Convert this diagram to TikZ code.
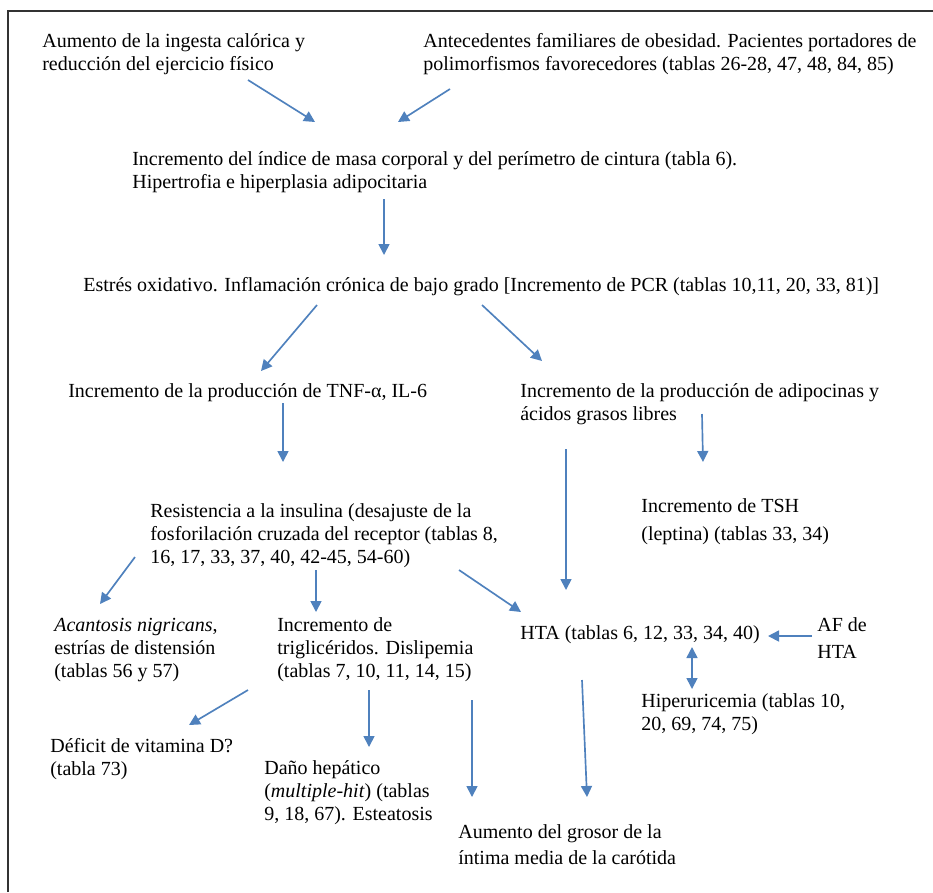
\documentclass[tikz,border=0pt]{standalone}
\usepackage{fontspec}
\setmainfont{Liberation Serif}
\usepackage{xcolor}
\usetikzlibrary{arrows.meta}
\definecolor{azulflecha}{RGB}{79,129,189}
\definecolor{gris}{RGB}{51,51,51}

\begin{document}
\begin{tikzpicture}[x=0.6pt, y=-0.6pt,
  txt/.style = {anchor=base west, inner sep=0pt, align=left, font=\fontsize{12}{13.8}\selectfont},
  flecha/.style = {draw=azulflecha, line width=1pt, -{Triangle[width=6.6pt,length=6.6pt]}},
  doble/.style = {flecha, {Triangle[width=6.6pt,length=6.6pt]}-{Triangle[width=6.6pt,length=6.6pt]}},
  marco/.style = {draw=gris, line width=1.2pt}]
        \useasboundingbox (0,0) rectangle (933,892);
        \draw[marco] (8,892) -- (8,11) -- (933,11);
        \node[txt] at (42, 70) (ingesta) {Aumento de la ingesta calórica y\\reducción del ejercicio físico};
        \node[txt] at (423, 70) (genetica) {Antecedentes familiares de obesidad. Pacientes portadores de\\polimorfismos favorecedores (tablas 26-28, 47, 48, 84, 85)};
        \node[txt] at (132, 188) (imc) {Incremento del índice de masa corporal y del perímetro de cintura (tabla 6).\\Hipertrofia e hiperplasia adipocitaria};
        \node[txt] at (83, 291) (estres) {Estrés oxidativo. Inflamación crónica de bajo grado [Incremento de PCR (tablas 10,11, 20, 33, 81)]};
        \node[txt] at (68, 397) (tnf) {Incremento de la producción de TNF-α, IL-6};
        \node[txt] at (520, 420) (adipo) {Incremento de la producción de adipocinas y\\ácidos grasos libres};
        \node[txt] at (641, 540) (tsh) {Incremento de TSH\\[3pt](leptina) (tablas 33, 34)};
        \node[txt] at (150, 563) (resist) {Resistencia a la insulina (desajuste de la\\fosforilación cruzada del receptor (tablas 8,\\16, 17, 33, 37, 40, 42-45, 54-60)};
        \node[txt] at (54, 677) (acant) {\textit{Acantosis nigricans},\\estrías de distensión\\(tablas 56 y 57)};
        \node[txt] at (277, 677) (trigli) {Incremento de\\triglicéridos. Dislipemia\\(tablas 7, 10, 11, 14, 15)};
        \node[txt] at (520, 639) (hta) {HTA (tablas 6, 12, 33, 34, 40)};
        \node[txt] at (817, 658) (afhta) {AF de\\[2.4pt]HTA};
        \node[txt] at (641, 730) (hiperu) {Hiperuricemia (tablas 10,\\20, 69, 74, 75)};
        \node[txt] at (50, 775) (vitd) {Déficit de vitamina D?\\(tabla 73)};
        \node[txt] at (264, 820) (hepat) {Daño hepático\\(\textit{multiple-hit}) (tablas\\9, 18, 67). Esteatosis};
        \node[txt] at (458, 864) (carot) {Aumento del grosor de la\\[1.8pt]íntima media de la carótida};
        \coordinate (ingesta-o) at (248, 80);
        \coordinate (genetica-o) at (450, 89);
        \coordinate (imc-i1) at (315, 122);
        \coordinate (imc-i2) at (398, 122);
        \coordinate (imc-o) at (384, 199);
        \coordinate (estres-i) at (384, 255);
        \coordinate (estres-o1) at (317, 305);
        \coordinate (estres-o2) at (482, 305);
        \coordinate (tnf-i) at (261, 371);
        \coordinate (adipo-i) at (542, 361);
        \coordinate (tnf-o) at (283, 403);
        \coordinate (resist-i) at (283, 462);
        \coordinate (adipo-o1) at (702, 414);
        \coordinate (tsh-i) at (703, 462);
        \coordinate (adipo-o2) at (566, 449);
        \coordinate (hta-i1) at (566, 590);
        \coordinate (resist-o1) at (135, 557);
        \coordinate (acant-i) at (100, 604);
        \coordinate (resist-o2) at (316, 570);
        \coordinate (trigli-i) at (316, 612);
        \coordinate (resist-o3) at (459, 570);
        \coordinate (hta-i2) at (521, 612);
        \coordinate (afhta-o) at (812, 636);
        \coordinate (hta-i3) at (768, 636);
        \coordinate (hta-o1) at (692, 647);
        \coordinate (hiperu-i) at (692, 689);
        \coordinate (trigli-o1) at (248, 690);
        \coordinate (vitd-i) at (189, 725);
        \coordinate (trigli-o2) at (369, 690);
        \coordinate (hepat-i) at (369, 747);
        \coordinate (trigli-o3) at (472, 700);
        \coordinate (carot-i1) at (472, 797);
        \coordinate (hta-o2) at (582, 680);
        \coordinate (carot-i2) at (587, 797);
        \draw[flecha] (ingesta-o) -- (imc-i1);
        \draw[flecha] (genetica-o) -- (imc-i2);
        \draw[flecha] (imc-o) -- (estres-i);
        \draw[flecha] (estres-o1) -- (tnf-i);
        \draw[flecha] (estres-o2) -- (adipo-i);
        \draw[flecha] (tnf-o) -- (resist-i);
        \draw[flecha] (adipo-o1) -- (tsh-i);
        \draw[flecha] (adipo-o2) -- (hta-i1);
        \draw[flecha] (resist-o1) -- (acant-i);
        \draw[flecha] (resist-o2) -- (trigli-i);
        \draw[flecha] (resist-o3) -- (hta-i2);
        \draw[flecha] (afhta-o) -- (hta-i3);
        \draw[doble] (hta-o1) -- (hiperu-i);
        \draw[flecha] (trigli-o1) -- (vitd-i);
        \draw[flecha] (trigli-o2) -- (hepat-i);
        \draw[flecha] (trigli-o3) -- (carot-i1);
        \draw[flecha] (hta-o2) -- (carot-i2);
\end{tikzpicture}
\end{document}
